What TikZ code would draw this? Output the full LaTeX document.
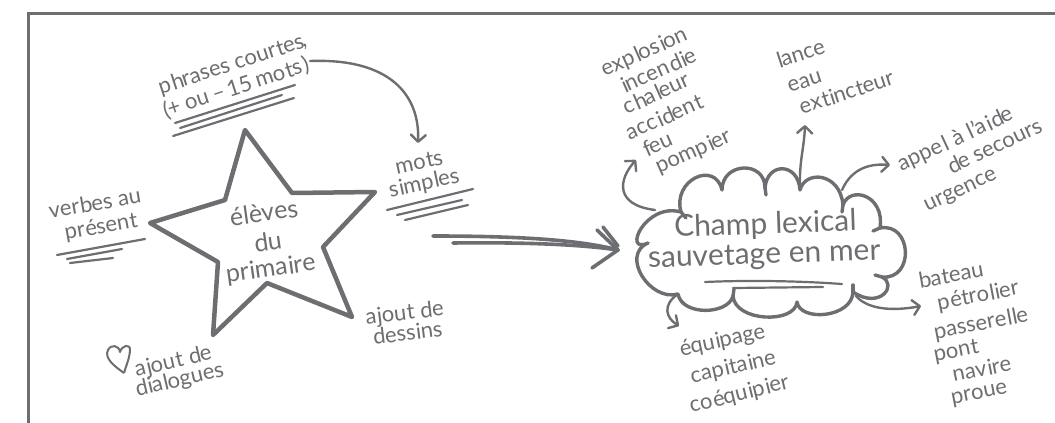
\documentclass[tikz,border=0pt]{standalone}
\usepackage{graphicx}
\usepackage{fontspec}
\setmainfont{Lato}
\usetikzlibrary{arrows.meta}
\definecolor{ink}{RGB}{109,110,113}
% slanted line of text: each letter is set along a rising baseline
\newdimen\slX \newdimen\slY \newdimen\slW
\newcommand\slantxt[2]{%
  \pgfmathsetmacro\slcos{cos(#1)}\pgfmathsetmacro\slsin{sin(#1)}%
  \def\slang{#1}\slY=0pt
  \hbox{\slloop#2\relax}}
\def\slloop#1{\ifx#1\relax\else\slchar{#1}\expandafter\slloop\fi}
\def\slchar#1{\setbox0=\hbox{#1}\slW=\wd0
  \raise\slY\hbox{\rlap{\rotatebox{\slang}{\box0}}}%
  \kern\slcos\slW \advance\slY by \slsin\slW}
\begin{document}
\begin{tikzpicture}[x=1pt,y=-1pt,
  txt/.style={text=ink,font=\fontsize{22}{24}\selectfont,inner sep=0pt},
  startxt/.style={txt,font=\fontsize{25}{28}\selectfont},
  cloudtxt/.style={txt,font=\fontsize{30}{32}\selectfont},
  conn/.style={draw=ink,line width=2.4pt,line cap=round,-{Straight Barb[length=7pt,width=15pt,round]}},
  ul/.style={draw=ink,line width=2.2pt,line cap=round},
  frameline/.style={draw=ink,line width=3pt},
  heartline/.style={draw=ink,line width=2pt,line join=round},
  starline/.style={draw=ink,line width=4.5pt,line join=round},
  cloudline/.style={draw=ink,line width=3.4pt,line cap=round,line join=round},
  bigarrow/.style={draw=ink,line width=3.6pt,line cap=round,line join=round}]
\useasboundingbox (0,0) rectangle (1055,423);
% frame (open)
\draw[frameline] (28,423) -- (28,13) -- (1055,13);

% ---------- left part ----------
\node[txt] (phr1) at (232,67) {\slantxt{18}{phrases~courtes,}};
\node[txt] (phr2) at (233,88) {\slantxt{18}{(+~ou~–15~mots)}};
\draw[ul] (175,123) -- (295,85);
\draw[ul] (180,128) -- (282,95);
\draw[ul] (173,136) -- (294,98);

\node[txt] (mots1) at (418,163) {\slantxt{12}{mots}};
\node[txt] (mots2) at (423,184) {\slantxt{12}{simples}};
\draw[ul] (387,210) -- (473,189);
\draw[ul] (397,215) -- (462,200);
\draw[ul] (405,220) -- (468,205);

\coordinate (phrA) at (310,61);
\coordinate (motsA) at (418,143);
\draw[conn] (phrA) .. controls (390,58) and (420,95) .. (motsA);

\node[txt] (verb1) at (94,205) {\slantxt{10}{verbes~au}};
\node[txt] (verb2) at (100,228) {\slantxt{10}{présent}};
\draw[ul] (57,255) -- (145,239);
\draw[ul] (67,259) -- (122,249);
\draw[ul] (70,263) -- (113,258);

% star
\draw[starline] (245,130) -- (292,193) -- (375,192) -- (323,247) -- (352,317)
  -- (267,283) -- (213,335) -- (218,262) -- (150,223) -- (225,200) -- cycle;
\node[startxt] (st1) at (263,215) {\slantxt{8}{élèves}};
\node[startxt] (st2) at (267,242) {\slantxt{8}{du}};
\node[startxt] (st3) at (270,271) {\slantxt{8}{primaire}};

% heart
\draw[heartline] (124,373) .. controls (114,366) and (104,358) .. (108,350)
  .. controls (111,344) and (119,345) .. (120,352)
  .. controls (122,345) and (131,343) .. (130,351)
  .. controls (129,360) and (126,366) .. (124,373);
\node[txt] (dial1) at (172,362) {\slantxt{13}{ajout~de}};
\node[txt] (dial2) at (178,381) {\slantxt{13}{dialogues}};

\node[txt] (dess1) at (404,314) {\slantxt{7}{ajout~de}};
\node[txt] (dess2) at (407,334) {\slantxt{7}{dessins}};

% big double arrow
\coordinate (bigA) at (433,236);
\coordinate (bigB) at (453,243);
\coordinate (bigT) at (618,250);
\draw[bigarrow] (bigA) .. controls (520,236) and (580,240) .. (bigT);
\draw[bigarrow] (bigB) .. controls (530,242) and (585,245) .. (bigT);
\draw[bigarrow] (597,230) -- (bigT) -- (592,268);
\draw[bigarrow] (603,227) -- (618,246);

% ---------- cloud ----------
\draw[cloudline] (648,243)
  .. controls (622,255) and (645,202) .. (681,212)
  .. controls (672,180) and (715,160) .. (722,190)
  .. controls (722,162) and (765,160) .. (765,188)
  .. controls (767,162) and (798,162) .. (800,190)
  .. controls (805,170) and (840,172) .. (843,205)
  .. controls (850,185) and (885,195) .. (880,228)
  .. controls (912,222) and (915,280) .. (882,277)
  .. controls (898,285) and (880,310) .. (853,292)
  .. controls (852,318) and (800,322) .. (797,302)
  .. controls (795,324) and (735,322) .. (733,296)
  .. controls (728,315) and (682,316) .. (678,294)
  .. controls (650,302) and (620,255) .. (648,243);
% little hooks at the notches
\draw[cloudline] (681,212) -- (686,218);
\draw[cloudline] (765,188) -- (766,195);
\draw[cloudline] (843,205) -- (842,212);
\draw[cloudline] (880,228) -- (873,231);
\draw[cloudline] (882,277) -- (875,275);
\draw[cloudline] (853,292) -- (853,285);
\draw[cloudline] (733,296) -- (734,289);

\node[cloudtxt] (ch1) at (765,224) {\slantxt{2}{Champ~lexical}};
\node[cloudtxt] (ch2) at (764,257) {\slantxt{2}{sauvetage~en~mer}};
\draw[ul] (705,282) .. controls (750,280) and (800,281) .. (842,284);
\draw[ul] (733,288) -- (823,287);

% upper-left list
\node[txt] (f1) at (642,53) {\slantxt{24}{explosion}};
\node[txt] (f2) at (656,72) {\slantxt{24}{incendie}};
\node[txt] (f3) at (654,95) {\slantxt{24}{chaleur}};
\node[txt] (f4) at (662,117) {\slantxt{24}{accident}};
\node[txt] (f5) at (655,146) {\slantxt{24}{feu}};
\node[txt] (f6) at (691,154) {\slantxt{24}{pompier}};
\coordinate (cfA) at (655,210);
\coordinate (cfB) at (636,160);
\draw[conn] (cfA) .. controls (615,205) and (618,180) .. (cfB);

% top list
\node[txt] (g1) at (799,55) {\slantxt{18}{lance}};
\node[txt] (g2) at (803,82) {\slantxt{18}{eau}};
\node[txt] (g3) at (845,94) {\slantxt{18}{extincteur}};
\coordinate (cgA) at (800,190);
\coordinate (cgB) at (805,125);
\draw[conn] (cgA) .. controls (799,160) and (804,150) .. (cgB);

% right-upper list
\node[txt] (h1) at (953,140) {\slantxt{25}{appel~à~l’aide}};
\node[txt] (h2) at (992,148) {\slantxt{25}{de~secours}};
\node[txt] (h3) at (958,190) {\slantxt{25}{urgence}};
\coordinate (chA) at (842,190);
\coordinate (chB) at (890,165);
\draw[conn] (chA) .. controls (850,172) and (865,163) .. (chB);

% right-lower list
\node[txt] (k1) at (950,277) {\slantxt{10}{bateau}};
\node[txt] (k2) at (977,298) {\slantxt{11}{pétrolier}};
\node[txt] (k3) at (980,325) {\slantxt{11}{passerelle}};
\node[txt] (k4) at (955,352) {\slantxt{11}{pont}};
\node[txt] (k5) at (981,370) {\slantxt{11}{navire}};
\node[txt] (k6) at (978,395) {\slantxt{11}{proue}};
\coordinate (ckA) at (856,296);
\coordinate (ckB) at (921,306);
\draw[conn] (ckA) .. controls (870,312) and (900,310) .. (ckB);

% bottom list
\node[txt] (e1) at (721,342) {\slantxt{12}{équipage}};
\node[txt] (e2) at (732,368) {\slantxt{13}{capitaine}};
\node[txt] (e3) at (738,395) {\slantxt{14}{coéquipier}};
\coordinate (ceA) at (678,294);
\coordinate (ceB) at (679,326);
\draw[conn] (ceA) .. controls (662,305) and (666,318) .. (ceB);
\end{tikzpicture}
\end{document}
